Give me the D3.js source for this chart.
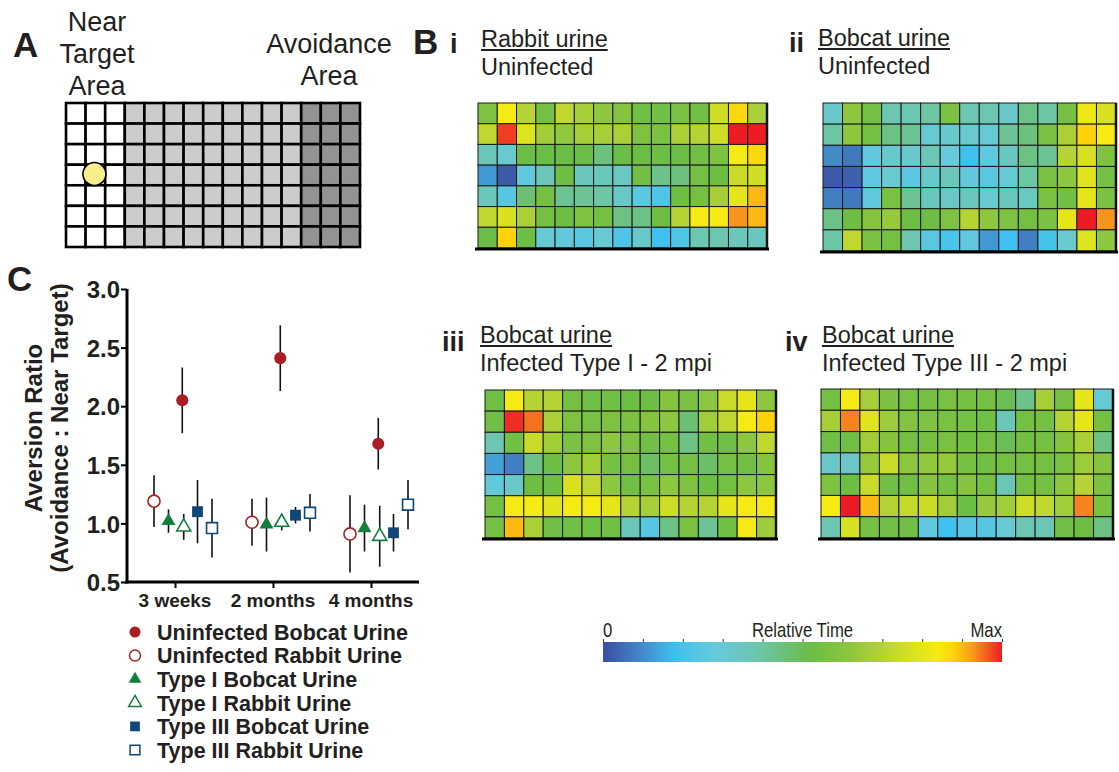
<!DOCTYPE html>
<html>
<head>
<meta charset="utf-8">
<script src="https://cdn.jsdelivr.net/npm/d3@7"></script>
<style>
body { margin: 0; background: #fff; }
text { font-family: Arial, "Liberation Sans", Helvetica, sans-serif; fill: #231f20; }
</style>
</head>
<body>
<svg id="fig" width="1119" height="772"></svg>
<script>
/* ---- data ---- */
// panel C: aversion ratio, mean and error (half-length of bar)
const timepoints = ["3 weeks", "2 months", "4 months"];
const yTicks = [0.5, 1.0, 1.5, 2.0, 2.5, 3.0];
const uninfBobcatMean = [2.05, 2.41, 1.68];
const uninfBobcatErr = [0.28, 0.28, 0.22];
const uninfRabbitMean = [1.19, 1.01, 0.91];
const uninfRabbitErr = [0.22, 0.20, 0.33];
const type1BobcatMean = [1.02, 0.99, 0.96];
const type1BobcatErr = [0.10, 0.23, 0.20];
const type1RabbitMean = [0.97, 1.01, 0.89];
const type1RabbitErr = [0.11, 0.07, 0.26];
const type3BobcatMean = [1.10, 1.07, 0.92];
const type3BobcatErr = [0.27, 0.07, 0.16];
const type3RabbitMean = [0.96, 1.09, 1.16];
const type3RabbitErr = [0.25, 0.16, 0.21];

// panel B: relative time per cell (0 = none, 1 = max), 7 rows x 15 columns
const hmRabbitUninfected = [
  [0.58,0.84,0.70,0.55,0.72,0.67,0.62,0.60,0.54,0.54,0.56,0.54,0.75,0.87,0.68],
  [0.72,0.98,0.78,0.66,0.63,0.67,0.67,0.68,0.58,0.57,0.68,0.70,0.75,1.00,1.00],
  [0.36,0.31,0.52,0.52,0.52,0.52,0.45,0.52,0.52,0.53,0.52,0.54,0.58,0.84,0.87],
  [0.12,0.02,0.27,0.37,0.53,0.35,0.36,0.34,0.54,0.43,0.45,0.55,0.53,0.74,0.75],
  [0.36,0.24,0.46,0.55,0.42,0.42,0.40,0.33,0.25,0.22,0.53,0.55,0.67,0.80,0.90],
  [0.72,0.77,0.68,0.55,0.53,0.58,0.55,0.44,0.44,0.53,0.70,0.84,0.84,0.93,0.90],
  [0.52,0.88,0.53,0.30,0.27,0.25,0.30,0.22,0.33,0.18,0.22,0.38,0.38,0.36,0.35]
];
const hmBobcatUninfected = [
  [0.32,0.62,0.55,0.38,0.38,0.40,0.57,0.38,0.38,0.33,0.44,0.40,0.55,0.82,0.77],
  [0.40,0.62,0.55,0.44,0.42,0.30,0.32,0.31,0.30,0.42,0.45,0.57,0.68,0.88,0.84],
  [0.10,0.07,0.27,0.32,0.32,0.37,0.28,0.18,0.26,0.35,0.44,0.42,0.70,0.77,0.58],
  [0.02,0.03,0.26,0.31,0.25,0.32,0.36,0.27,0.25,0.30,0.40,0.56,0.62,0.79,0.55],
  [0.08,0.07,0.27,0.56,0.42,0.35,0.33,0.35,0.31,0.35,0.34,0.56,0.54,0.80,0.57],
  [0.44,0.53,0.60,0.64,0.53,0.53,0.58,0.70,0.62,0.58,0.55,0.57,0.80,1.00,0.93],
  [0.40,0.72,0.57,0.55,0.38,0.25,0.21,0.27,0.12,0.18,0.08,0.20,0.31,0.78,0.62]
];
const hmBobcatType1 = [
  [0.54,0.84,0.70,0.70,0.55,0.54,0.54,0.53,0.53,0.60,0.57,0.62,0.74,0.80,0.62],
  [0.54,0.99,0.95,0.68,0.58,0.56,0.58,0.57,0.60,0.62,0.46,0.66,0.72,0.84,0.88],
  [0.38,0.54,0.74,0.66,0.57,0.58,0.62,0.58,0.54,0.55,0.44,0.54,0.54,0.62,0.72],
  [0.13,0.08,0.44,0.53,0.62,0.66,0.55,0.55,0.48,0.55,0.55,0.48,0.55,0.54,0.60],
  [0.27,0.33,0.53,0.53,0.77,0.72,0.62,0.54,0.56,0.62,0.58,0.53,0.55,0.62,0.62],
  [0.55,0.84,0.84,0.79,0.84,0.84,0.80,0.70,0.67,0.75,0.70,0.70,0.80,0.84,0.84],
  [0.55,0.90,0.68,0.54,0.54,0.54,0.54,0.36,0.24,0.44,0.56,0.42,0.54,0.84,0.65]
];
const hmBobcatType3 = [
  [0.55,0.84,0.67,0.57,0.56,0.55,0.56,0.55,0.55,0.50,0.43,0.67,0.55,0.80,0.30],
  [0.67,0.94,0.79,0.65,0.59,0.58,0.56,0.55,0.54,0.37,0.55,0.55,0.70,0.80,0.55],
  [0.54,0.54,0.66,0.60,0.55,0.55,0.56,0.54,0.55,0.50,0.54,0.55,0.60,0.68,0.44],
  [0.33,0.33,0.64,0.74,0.62,0.63,0.64,0.55,0.54,0.55,0.55,0.55,0.56,0.65,0.60],
  [0.58,0.53,0.74,0.54,0.54,0.60,0.55,0.60,0.55,0.37,0.55,0.55,0.62,0.70,0.57],
  [0.84,1.00,0.90,0.70,0.73,0.74,0.66,0.52,0.64,0.66,0.75,0.72,0.66,0.94,0.57],
  [0.38,0.77,0.55,0.54,0.54,0.26,0.18,0.24,0.24,0.30,0.38,0.37,0.54,0.53,0.44]
];

// colour map of the "Relative Time" bar
const cmapStops = [0, 0.09, 0.18, 0.28, 0.38, 0.45, 0.52, 0.62, 0.70, 0.78, 0.84, 0.88, 0.93, 1];
const cmapColors = ["#3b4ea2","#4385c6","#3ec1ee","#66cadb","#6cc6b2","#6cc17c","#6abd45","#8dc63f",
                    "#b5d334","#dde31c","#f5ea14","#fdd20a","#f7941d","#ed1c24"];

const svg = d3.select("#fig");
const color = d3.scaleLinear().domain(cmapStops).range(cmapColors);

const rows = d3.range(7), cols = d3.range(15);

/* ---- panel A: arena schematic ---- */
svg.append("text").attr("x", 13).attr("y", 57).style("font-size", "35px").style("font-weight", "bold").text("A");
const nearLbl = svg.append("text").attr("text-anchor", "middle").style("font-size", "27px");
[["Near", 31], ["Target", 63], ["Area", 95]].forEach(([t, y]) =>
  nearLbl.append("tspan").attr("x", 97).attr("y", y).text(t));
const avLbl = svg.append("text").attr("text-anchor", "middle").style("font-size", "27px");
[["Avoidance", 53], ["Area", 85]].forEach(([t, y]) =>
  avLbl.append("tspan").attr("x", 329).attr("y", y).text(t));

const axA = d3.scaleBand().domain(cols).range([66, 360]);
const ayA = d3.scaleBand().domain(rows).range([103, 247]);
const zoneFill = c => c < 3 ? "#ffffff" : (c < 12 ? "#cccccc" : "#939393");
svg.append("g").selectAll("rect")
  .data(d3.cross(rows, cols))
  .join("rect")
    .attr("x", d => axA(d[1]))
    .attr("y", d => ayA(d[0]))
    .attr("width", axA.bandwidth())
    .attr("height", ayA.bandwidth())
    .attr("fill", d => zoneFill(d[1]))
    .attr("stroke", "#000")
    .attr("stroke-width", 2.6);
svg.append("circle")
  .attr("cx", axA(1) + axA.bandwidth() / 2 - 1)
  .attr("cy", ayA(3) + ayA.bandwidth() / 2 - 1)
  .attr("r", 11.5)
  .attr("fill", "#f8ef8c").attr("stroke", "#000").attr("stroke-width", 1.6);

/* ---- panel B: heat maps ---- */
svg.append("text").attr("x", 413).attr("y", 54).style("font-size", "35px").style("font-weight", "bold").text("B");

const panels = [
  {num: "i",   data: hmRabbitUninfected, t1: "Rabbit urine", t2: "Uninfected",
   numX: 450, numY: 53, tx: 481, ty: 47, box: [478, 767, 103, 248]},
  {num: "ii",  data: hmBobcatUninfected, t1: "Bobcat urine", t2: "Uninfected",
   numX: 789, numY: 52, tx: 818, ty: 46, box: [823, 1116, 103, 251]},
  {num: "iii", data: hmBobcatType1, t1: "Bobcat urine", t2: "Infected Type I - 2 mpi",
   numX: 442, numY: 351, tx: 480, ty: 343, box: [485, 776, 390, 538]},
  {num: "iv",  data: hmBobcatType3, t1: "Bobcat urine", t2: "Infected Type III - 2 mpi",
   numX: 785, numY: 351, tx: 822, ty: 343, box: [821, 1113, 389, 538]}
];

panels.forEach(p => {
  const g = svg.append("g");
  g.append("text").attr("x", p.numX).attr("y", p.numY)
    .style("font-size", "27px").style("font-weight", "bold").text(p.num);
  const t1 = g.append("text").attr("x", p.tx).attr("y", p.ty).style("font-size", "23.5px").text(p.t1);
  const w = t1.node().getComputedTextLength();
  g.append("line").attr("x1", p.tx).attr("x2", p.tx + w)
    .attr("y1", p.ty + 3).attr("y2", p.ty + 3).attr("stroke", "#231f20").attr("stroke-width", 2);
  g.append("text").attr("x", p.tx).attr("y", p.ty + 28).style("font-size", "23.5px").text(p.t2);

  const [x0, x1, y0, y1] = p.box;
  const hx = d3.scaleBand().domain(cols).range([x0, x1]);
  const hy = d3.scaleBand().domain(rows).range([y0, y1]);
  g.append("g").selectAll("rect")
    .data(d3.cross(rows, cols))
    .join("rect")
      .attr("x", d => hx(d[1]))
      .attr("y", d => hy(d[0]))
      .attr("width", hx.bandwidth())
      .attr("height", hy.bandwidth())
      .attr("fill", d => color(p.data[d[0]][d[1]]))
      .attr("stroke", "#1a1a1a")
      .attr("stroke-width", 1);
  // heavy baseline and right edge
  g.append("line").attr("x1", x0 - 3).attr("x2", x1 + 2).attr("y1", y1 + 1).attr("y2", y1 + 1)
    .attr("stroke", "#000").attr("stroke-width", 3);
  g.append("line").attr("x1", x1).attr("x2", x1).attr("y1", y0).attr("y2", y1)
    .attr("stroke", "#111").attr("stroke-width", 2.5);
});

/* ---- colour bar ---- */
const cbX = d3.scaleLinear().domain([0, 1]).range([603, 1002]);
const grad = svg.append("defs").append("linearGradient").attr("id", "cmap");
grad.selectAll("stop").data(cmapStops).join("stop")
  .attr("offset", d => d)
  .attr("stop-color", d => color(d));
svg.append("rect").attr("x", cbX(0)).attr("y", 642).attr("width", cbX(1) - cbX(0)).attr("height", 20)
  .attr("fill", "url(#cmap)");
svg.append("g").attr("transform", "translate(0,642)")
  .call(d3.axisTop(cbX).ticks(10).tickSize(3).tickFormat(""))
  .call(g => g.select(".domain").remove())
  .call(g => g.selectAll("line").attr("stroke", "#333").attr("stroke-width", 1));
// narrow-looking labels: squeeze horizontally around their anchor
const cbLbl = (t, v, anchor) => svg.append("text")
  .attr("transform", `translate(${cbX(v)},637) scale(0.88,1.06)`)
  .attr("text-anchor", anchor).style("font-size", "19px").text(t);
cbLbl("0", 0, "start");
cbLbl("Relative Time", 0.5, "middle");
cbLbl("Max", 1, "end");

/* ---- panel C: aversion ratio ---- */
svg.append("text").attr("x", 7).attr("y", 291).style("font-size", "35px").style("font-weight", "bold").text("C");

const y = d3.scaleLinear().domain([0.5, 3.0]).range([582, 289]);
const x = d3.scalePoint().domain(timepoints).range([175, 371]);
const slot = d3.scaleLinear().domain([0, 4]).range([-21, 37]);

const RED = "#aa1e23", GREEN = "#137f3e", BLUE = "#0f477a";
const series = [
  {name: "Uninfected Bobcat Urine", mean: uninfBobcatMean, err: uninfBobcatErr, col: RED,   shape: d3.symbolCircle,   filled: true,  slot: 1.95},
  {name: "Uninfected Rabbit Urine", mean: uninfRabbitMean, err: uninfRabbitErr, col: RED,   shape: d3.symbolCircle,   filled: false, slot: 0},
  {name: "Type I Bobcat Urine",     mean: type1BobcatMean, err: type1BobcatErr, col: GREEN, shape: d3.symbolTriangle, filled: true,  slot: 1},
  {name: "Type I Rabbit Urine",     mean: type1RabbitMean, err: type1RabbitErr, col: GREEN, shape: d3.symbolTriangle, filled: false, slot: 2.05},
  {name: "Type III Bobcat Urine",   mean: type3BobcatMean, err: type3BobcatErr, col: BLUE,  shape: d3.symbolSquare,   filled: true,  slot: 3},
  {name: "Type III Rabbit Urine",   mean: type3RabbitMean, err: type3RabbitErr, col: BLUE,  shape: d3.symbolSquare,   filled: false, slot: 4}
];
const sym = s => d3.symbol().type(s.shape).size(s.shape === d3.symbolCircle ? 115 : (s.shape === d3.symbolTriangle ? 85 : 118))();

// axes
svg.append("g").attr("transform", "translate(127,0)")
  .call(d3.axisLeft(y).tickValues(yTicks).tickFormat(d3.format(".1f")).tickSize(6))
  .call(g => g.select(".domain").attr("stroke-width", 3).attr("d", "M0,289V583.5"))
  .call(g => g.selectAll("line").attr("stroke-width", 2))
  .call(g => g.selectAll("text").attr("x", -7).attr("dy", "0.36em")
    .style("font-size", "24px").style("font-weight", "bold").style("font-family", "Arial, 'Liberation Sans', sans-serif").attr("fill", "#231f20"));
svg.append("g").attr("transform", "translate(0,582)")
  .call(d3.axisBottom(x).tickSize(6).tickFormat(""))
  .call(g => g.select(".domain").attr("stroke-width", 3).attr("d", "M125.5,0H419"))
  .call(g => g.selectAll("line").attr("stroke-width", 2));
svg.append("g").selectAll("text").data(timepoints).join("text")
  .attr("x", d => x(d)).attr("y", 607).attr("text-anchor", "middle")
  .style("font-size", "19px").style("font-weight", "bold").text(d => d);

// axis title
const yt = svg.append("text").attr("transform", "translate(0,428) rotate(-90)")
  .attr("text-anchor", "middle").style("font-size", "24px").style("font-weight", "bold");
yt.append("tspan").attr("x", 0).attr("y", 42).text("Aversion Ratio");
yt.append("tspan").attr("x", 0).attr("y", 68).text("(Avoidance : Near Target)");

// error bars then markers
const pts = series.flatMap(s => timepoints.map((t, i) => ({s, t, m: s.mean[i], e: s.err[i]})));
svg.append("g").selectAll("line").data(pts).join("line")
  .attr("x1", d => x(d.t) + slot(d.s.slot)).attr("x2", d => x(d.t) + slot(d.s.slot))
  .attr("y1", d => y(d.m + d.e)).attr("y2", d => y(d.m - d.e))
  .attr("stroke", "#111").attr("stroke-width", 1.6);
svg.append("g").selectAll("path").data(pts).join("path")
  .attr("transform", d => `translate(${x(d.t) + slot(d.s.slot)},${y(d.m)})`)
  .attr("d", d => sym(d.s))
  .attr("fill", d => d.s.filled ? d.s.col : "#fff")
  .attr("stroke", d => d.s.col)
  .attr("stroke-width", d => d.s.filled ? 0 : 1.6);

// legend
const lg = svg.append("g").selectAll("g").data(series).join("g")
  .attr("transform", (d, i) => `translate(135,${632 + i * 23.6})`);
lg.append("path").attr("d", d => d3.symbol().type(d.shape).size(d.shape === d3.symbolTriangle ? 70 : 95)())
  .attr("fill", d => d.filled ? d.col : "#fff")
  .attr("stroke", d => d.col).attr("stroke-width", d => d.filled ? 0 : 1.5);
lg.append("text").attr("x", 22).attr("dy", "0.36em")
  .style("font-size", "21.5px").style("font-weight", "bold").text(d => d.name);
</script>
</body>
</html>
